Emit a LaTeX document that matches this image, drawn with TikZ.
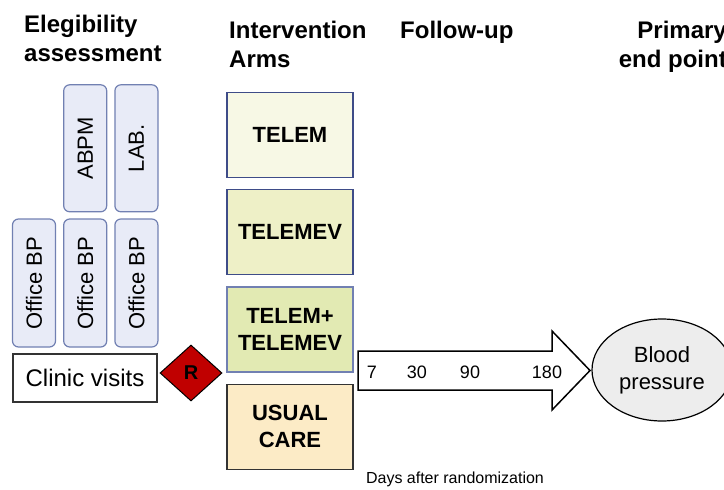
\documentclass[tikz,border=0pt]{standalone}
\usepackage{fontspec}
\setmainfont{Liberation Sans}
\usepackage{tikz}
\usetikzlibrary{positioning}
\usetikzlibrary{shapes,shapes.geometric}
\definecolor{evalfill}{HTML}{E8EBF7}
\definecolor{evaldraw}{HTML}{7180B2}
\definecolor{telemfill}{HTML}{F7F8E5}
\definecolor{telemevfill}{HTML}{EEF0C7}
\definecolor{bothfill}{HTML}{E2EAB3}
\definecolor{usualfill}{HTML}{FCEBC6}
\definecolor{armdraw}{HTML}{3E4C88}
\definecolor{randred}{HTML}{C00000}
\tikzset{head node/.style={anchor=north west,inner sep=0pt,align=left,font=\bfseries\fontsize{24}{29}\selectfont},
  eval node/.style={rectangle,rounded corners=6pt,draw=evaldraw,fill=evalfill,line width=1.2pt,minimum width=43pt,minimum height=128pt,inner sep=0pt,font=\fontsize{22}{26}\selectfont},
  arm node/.style={rectangle,draw=armdraw,line width=1.2pt,minimum width=126pt,minimum height=85pt,inner sep=0pt,align=center,font=\bfseries\fontsize{22}{27}\selectfont},
  day node/.style={inner sep=0pt,font=\fontsize{18}{20}\selectfont},}

\begin{document}
\begin{tikzpicture}[x=1pt,y=-1pt,node distance=7pt]
	\useasboundingbox (0,0) rectangle (724,490);
	% headings
	\node[head node] (hElig) at (24,15) {Elegibility\\assessment};
	\node[head node] (hArms) at (229,21) {Intervention\\Arms};
	\node[head node] (hFollow) at (400,21) {Follow-up};
	\node[head node, anchor=north east, align=right] (hEnd) at (727,21) {Primary\\end point};

	% elegibility visits
	\node[eval node] (ob1) at (34,283) {\rotatebox{90}{Office BP}};
	\node[eval node] (ob2) [right = of ob1] {\rotatebox{90}{Office BP}};
	\node[eval node] (ob3) [right = of ob2] {\rotatebox{90}{Office BP}};
	\node[eval node, minimum height=127pt] (abpm) [above = 6pt of ob2] {\rotatebox{90}{ABPM}};
	\node[eval node, minimum height=127pt] (lab) [above = 6pt of ob3] {\rotatebox{90}{LAB.}};
	\node[draw=black!80, line width=1.5pt, fill=white, minimum width=144pt, minimum height=48pt, inner sep=0pt, font=\fontsize{24}{28}\selectfont] (clinic) at (85,378) {Clinic visits};
	\node[diamond, draw=black, fill=randred, line width=1pt, minimum width=62pt, minimum height=56pt, inner sep=0pt, font=\bfseries\fontsize{20}{24}\selectfont] (rand) at (191,373) {R};

	% intervention arms
	\node[arm node, fill=telemfill] (telem) at (290,135) {TELEM};
	\node[arm node, fill=telemevfill] (telemev) [below = 11pt of telem] {TELEMEV};
	\node[arm node, fill=bothfill, draw=evaldraw] (both) [below = 11pt of telemev] {TELEM+\\TELEMEV};
	\node[arm node, fill=usualfill, draw=black!80] (usual) [below = 11pt of both] {USUAL\\CARE};

	% follow-up arrow
	\draw[line width=1.5pt, fill=white, line join=miter] (358,351) -- (552,351) -- (552,331) -- (590,370.5) -- (552,410) -- (552,390) -- (358,390) -- cycle;
	\node[day node] (d7) at (372,372) {7};
	\node[day node] (d30) at (417,372) {30};
	\node[day node] (d90) at (470,372) {90};
	\node[day node] (d180) at (547,372) {180};
	\node[inner sep=0pt, font=\fontsize{16}{19}\selectfont] (days) at (455,479) {Days after randomization};

	% end point
	\node[ellipse, draw=black, fill=black!7, line width=1.2pt, minimum width=140pt, minimum height=102pt, inner sep=0pt, align=center, font=\fontsize{22}{27}\selectfont] (bp) at (662,370) {Blood\\pressure};
\end{tikzpicture}
\end{document}
